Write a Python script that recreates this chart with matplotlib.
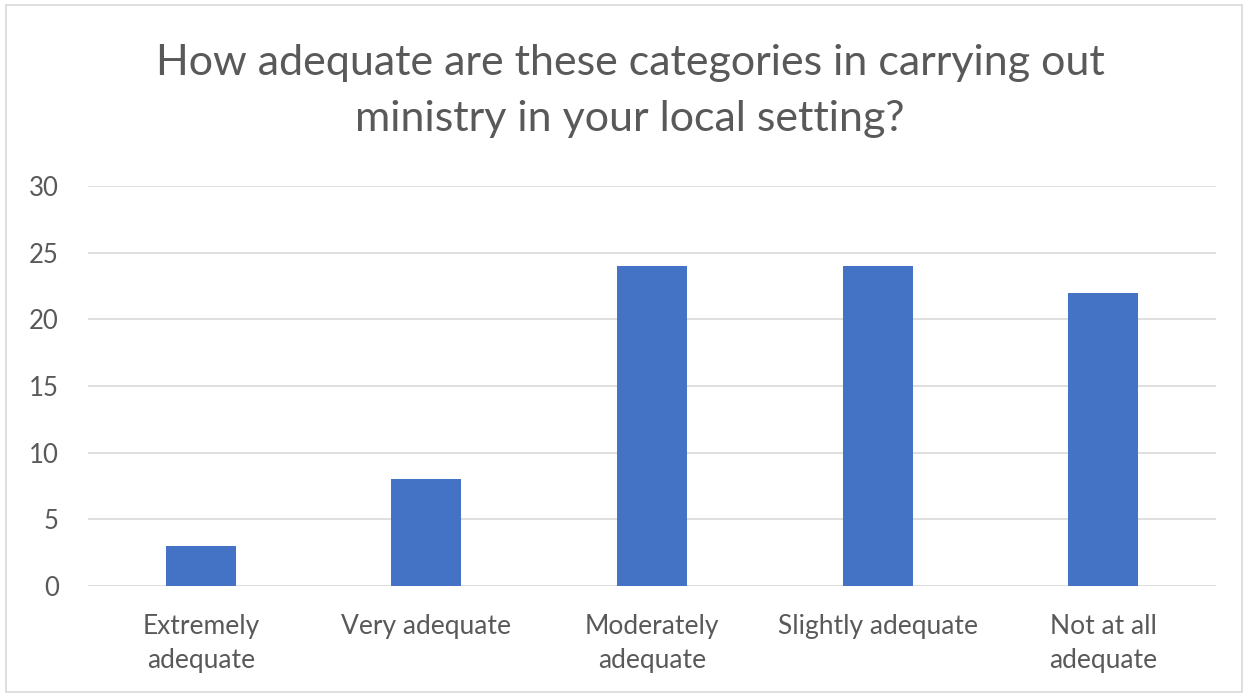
import matplotlib
matplotlib.use("Agg")
import matplotlib.pyplot as plt
from matplotlib.patches import Rectangle

categories = ["Extremely\nadequate", "Very adequate", "Moderately\nadequate", "Slightly adequate", "Not at all\nadequate"]
values = [3, 8, 24, 24, 22]
yticks = [0, 5, 10, 15, 20, 25, 30]
title = "How adequate are these categories in carrying out\nministry in your local setting?"

plt.rcParams['font.family'] = ['Lato', 'DejaVu Sans']
text_color = "#595959"

fig = plt.figure(figsize=(12.51, 6.98), dpi=100)
ax = fig.add_axes([88/1251, 1-586/698, (1216-88)/1251, 400/698])

x = list(range(len(categories)))
ax.bar(x, values, width=0.31, color="#4472C4", zorder=3)
ax.set_xlim(-0.5, len(categories)-0.5)
ax.set_ylim(0, 30)
ax.set_yticks(yticks)
ax.set_yticklabels([str(t) for t in yticks], fontsize=18.5, color=text_color)
ax.set_xticks(x)
ax.set_xticklabels(categories, fontsize=19, color=text_color, linespacing=1.45)
ax.tick_params(axis='both', length=0)
ax.tick_params(axis='y', pad=21)
ax.tick_params(axis='x', pad=20)
ax.grid(axis='y', color="#D9D9D9", linewidth=1.2, zorder=0)
for s in ax.spines.values():
    s.set_visible(False)

fig.text(630/1251, 1-91/698, title, ha='center', va='center', fontsize=31,
         color=text_color, linespacing=1.55)

fig.patches.append(Rectangle((6/1251, 1-692/698), (1242-6)/1251, (692-5)/698,
                             transform=fig.transFigure, fill=False,
                             edgecolor="#D9D9D9", linewidth=1.2))

fig.savefig("out.png", dpi=100)
